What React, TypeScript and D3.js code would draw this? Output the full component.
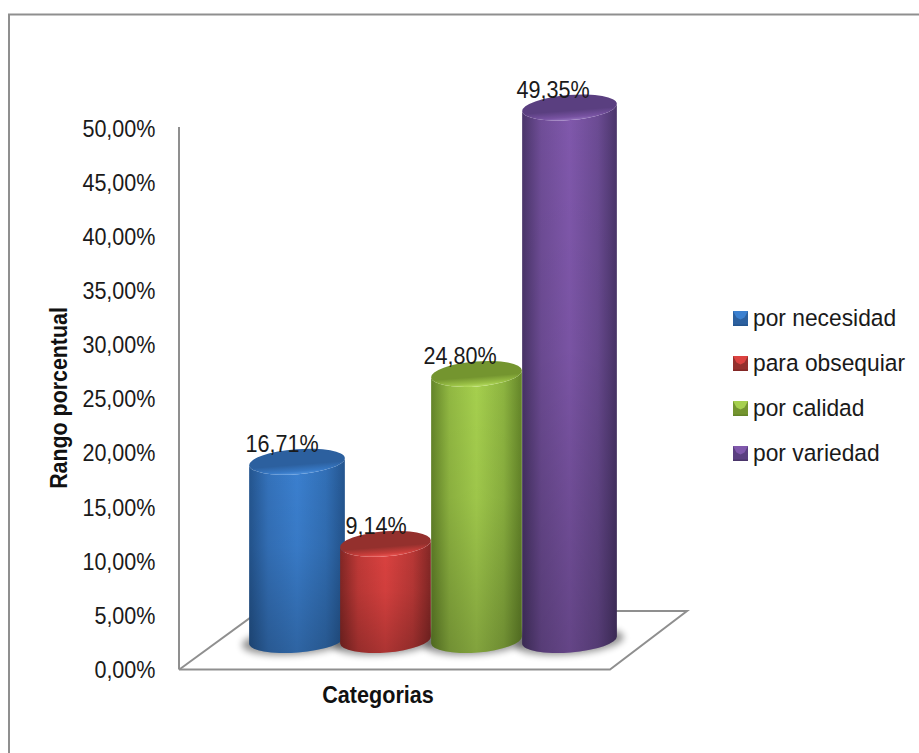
import React from "react";
import * as d3 from "d3";

// Survey result: share of respondents per purchase motive
const categories = ["por necesidad", "para obsequiar", "por calidad", "por variedad"];
const values = [16.71, 9.14, 24.8, 49.35];
const valueLabels = ["16,71%", "9,14%", "24,80%", "49,35%"];
const yTicks = [0, 5, 10, 15, 20, 25, 30, 35, 40, 45, 50];
const yTickLabels = ["0,00%", "5,00%", "10,00%", "15,00%", "20,00%", "25,00%", "30,00%", "35,00%", "40,00%", "45,00%", "50,00%"];
const yTitle = "Rango porcentual";
const xTitle = "Categorias";

// Palette per category: edge, middle highlight, cap, cap rim
const edgeColors = ["#24558f", "#832725", "#648529", "#4a356a"];
const midColors = ["#3b80d0", "#dc4240", "#a6d04e", "#8058ac"];
const capColors = ["#2c609f", "#94302d", "#74952f", "#5a3f80"];
const rimColors = ["#4d90dc", "#ea5552", "#b6dc62", "#9270bc"];

const W = 919;
const H = 753;
const FONT = "'Liberation Sans', Arial, sans-serif";
const AXIS = "#8f8f8f";

// The vertical axis spans 0-50 %; columns stand on a floor set back behind the front edge
const yAxis = d3.scaleLinear().domain([0, 50]).range([668.5, 127]);
const yColumn = d3.scaleLinear().domain([0, 50]).range([643, 100.5]);

// Perspective makes the slots unequal, so each column has its own centre and half-width
const cxScale = d3.scaleOrdinal<string, number>().domain(categories).range([297, 385.5, 476.5, 569.5]);
const rxScale = d3.scaleOrdinal<string, number>().domain(categories).range([48, 45.5, 45.5, 47.5]);
const labelX = d3.scaleOrdinal<string, number>().domain(categories).range([282, 376, 460, 553]);
const legendY = d3.scalePoint<string>().domain(categories).range([318, 453]);

const RY = 12.5;
const TILT = -4.5;
const BASE_INSET = 3;

function tiltOffset(rx: number) {
  const t = (TILT * Math.PI) / 180;
  return { dx: rx * Math.cos(t), dy: rx * Math.sin(t) };
}

function bodyPath(cx: number, rx: number, top: number, base: number) {
  const { dx, dy } = tiltOffset(rx);
  return (
    `M${cx - dx},${top - dy}` +
    `L${cx - dx},${base - dy}` +
    `A${rx},${RY} ${TILT} 0 0 ${cx + dx},${base + dy}` +
    `L${cx + dx},${top + dy}` +
    `A${rx},${RY} ${TILT} 0 1 ${cx - dx},${top - dy}Z`
  );
}

// Text set slightly condensed, as the chart's labels are
function Label({
  x,
  y,
  size,
  squeeze,
  anchor = "start",
  weight = 400,
  rotate = 0,
  children,
}: {
  x: number;
  y: number;
  size: number;
  squeeze: number;
  anchor?: string;
  weight?: number;
  rotate?: number;
  children: React.ReactNode;
}) {
  return (
    <text
      transform={`translate(${x},${y}) rotate(${rotate}) scale(${squeeze},1)`}
      textAnchor={anchor}
      fontFamily={FONT}
      fontSize={size}
      fontWeight={weight}
      fill={weight > 400 ? "#111" : "#1a1a1a"}
    >
      {children}
    </text>
  );
}

function Swatch({ x, y, i }: { x: number; y: number; i: number }) {
  const s = 15;
  const b = 3.5;
  return (
    <g>
      <rect x={x} y={y} width={s} height={s} fill={capColors[i]} />
      <polygon
        points={`${x},${y} ${x + s},${y} ${x + s - b},${y + b + 3} ${x + s / 2},${y + b + 5} ${x + b},${y + b + 3}`}
        fill={midColors[i]}
      />
      <rect x={x} y={y + s - 1.5} width={s} height={1.5} fill={edgeColors[i]} />
    </g>
  );
}

export default function App() {
  return (
    <svg
      width={W}
      height={H}
      viewBox={`0 0 ${W} ${H}`}
      style={{ position: "absolute", left: 0, top: 0, display: "block", background: "#fff" }}
    >
      <defs>
        <filter id="soft" x="-30%" y="-60%" width="160%" height="220%">
          <feGaussianBlur stdDeviation="3.5" />
        </filter>
        {categories.map((c, i) => (
          <linearGradient key={c} id={`side${i}`} x1="0" x2="1" y1="0" y2="0">
            <stop offset="0" stopColor={edgeColors[i]} />
            <stop offset="0.2" stopColor={d3.interpolateRgb(edgeColors[i], midColors[i])(0.68)} />
            <stop offset="0.5" stopColor={midColors[i]} />
            <stop offset="0.8" stopColor={d3.interpolateRgb(edgeColors[i], midColors[i])(0.62)} />
            <stop offset="1" stopColor={edgeColors[i]} />
          </linearGradient>
        ))}
        {categories.map((c, i) => (
          <linearGradient key={c} id={`cap${i}`} x1="0" x2="0" y1="0" y2="1">
            <stop offset="0" stopColor={capColors[i]} />
            <stop offset="0.62" stopColor={capColors[i]} />
            <stop offset="0.88" stopColor={d3.interpolateRgb(capColors[i], midColors[i])(0.75)} />
            <stop offset="1" stopColor={rimColors[i]} />
          </linearGradient>
        ))}
        <linearGradient id="fade" x1="0" x2="0" y1="0" y2="1">
          <stop offset="0" stopColor="#000" stopOpacity="0" />
          <stop offset="0.45" stopColor="#000" stopOpacity="0.05" />
          <stop offset="1" stopColor="#000" stopOpacity="0.22" />
        </linearGradient>
      </defs>

      {/* outer chart frame, running off the right and bottom of the page */}
      <path d={`M9,${H}V14.5H${W}`} fill="none" stroke={AXIS} strokeWidth={2} />

      {/* axis wall and floor */}
      <g fill="none" stroke={AXIS} strokeWidth={2}>
        <line x1={179} x2={179} y1={yAxis(50)} y2={yAxis(0) + 1} />
        <path d="M179,669.5H610L687,611H600" />
        <path d="M180,669L262,609" />
      </g>

      {yTicks.map((t, i) => (
        <Label key={t} x={155.5} y={yAxis(t) + 9.5} size={24.5} squeeze={0.88} anchor="end">
          {yTickLabels[i]}
        </Label>
      ))}

      <Label x={67} y={398} size={23.5} squeeze={0.91} anchor="middle" weight={700} rotate={-90}>
        {yTitle}
      </Label>
      <Label x={378} y={703} size={23.5} squeeze={0.92} anchor="middle" weight={700}>
        {xTitle}
      </Label>

      {/* contact shadows on the floor */}
      {categories.map((c) => (
        <ellipse
          key={c}
          cx={cxScale(c)}
          cy={yColumn(0) - BASE_INSET + 1}
          rx={rxScale(c) + 7}
          ry={RY + 1}
          transform={`rotate(${TILT} ${cxScale(c)} ${yColumn(0)})`}
          fill="#000"
          opacity={0.42}
          filter="url(#soft)"
        />
      ))}

      {/* columns, drawn left to right so each one overlaps its neighbour */}
      {categories.map((c, i) => {
        const cx = cxScale(c);
        const rx = rxScale(c);
        const top = yColumn(values[i]);
        const base = yColumn(0) - BASE_INSET;
        const d = bodyPath(cx, rx, top, base);
        const rot = `rotate(${TILT} ${cx} ${top})`;
        return (
          <g key={c}>
            <path d={d} fill={`url(#side${i})`} />
            <path d={d} fill="url(#fade)" />
            <ellipse cx={cx} cy={top} rx={rx} ry={RY} transform={rot} fill={`url(#cap${i})`} />
          </g>
        );
      })}

      {/* value labels sit on the rear rim of each cap */}
      {categories.map((c, i) => (
        <Label key={c} x={labelX(c)} y={yColumn(values[i]) - 10} size={24.5} squeeze={0.88} anchor="middle">
          {valueLabels[i]}
        </Label>
      ))}

      {/* legend */}
      {categories.map((c, i) => (
        <g key={c}>
          <Swatch x={733} y={(legendY(c) as number) - 7} i={i} />
          <Label x={753} y={(legendY(c) as number) + 8} size={23.5} squeeze={0.97}>
            {c}
          </Label>
        </g>
      ))}
    </svg>
  );
}
